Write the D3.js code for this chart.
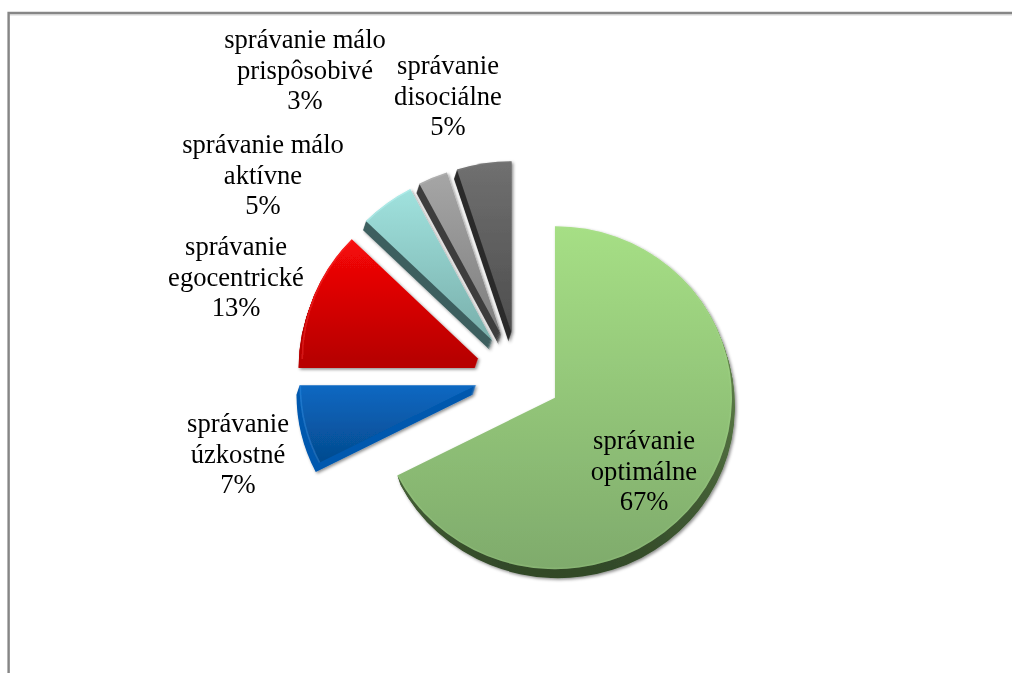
<!DOCTYPE html>
<html><head><meta charset="utf-8">
<script src="https://cdn.jsdelivr.net/npm/d3@7"></script>
<style>html,body{margin:0;padding:0;background:#fff;overflow:hidden}svg{display:block}</style>
</head><body><svg id="c" width="1018" height="673"></svg>
<script>
const categories = ["správanie optimálne","správanie úzkostné","správanie egocentrické","správanie málo aktívne","správanie málo prispôsobivé","správanie disociálne"];
const labelLines = [["správanie","optimálne"],["správanie","úzkostné"],["správanie","egocentrické"],["správanie málo","aktívne"],["správanie málo","prispôsobivé"],["správanie","disociálne"]];
const shareLabels = ["67%","7%","13%","5%","3%","5%"];
const sliceShares = [67.5,7.5,12.3,5.0,2.7,5.0];
const topColors = ["#a6df85","#0a68c2","#f80808","#a0e2de","#a6a6a6","#707070"];
const botColors = ["#7fab6c","#054a8e","#b80000","#79afab","#7d7d7d","#4d4d4d"];
const sideTop = ["#66884f","#0058ae","#b80000","#3d5f5f","#3d3d3d","#2c2c2c"];
const sideBot = ["#2f4526","#0058ae","#b80000","#3d5f5f","#3d3d3d","#2c2c2c"];
const rimColors = ["#b4e69a","#3d93e8","#ff3a3a","#c0fbfb","#c4c4c4","#8a8a8a"];
const rimAlpha = [0.15,0.4,0.4,0.4,0.3,0.2];

const cx=518.3, cy=375.2, explode=43, rx=177, ry=171.5, depth=9, sideDrift=3;
const labelPos = [[644,449],[238,432],[236,255],[263,153],[305,48],[448,74]];
const lineH = 30.6, fontPx = 26.6;

const svg = d3.select("#c");
const defs = svg.append("defs");
const f = defs.append("filter").attr("id","sh").attr("x","-10%").attr("y","-10%").attr("width","125%").attr("height","125%");
f.append("feDropShadow").attr("dx",1.5).attr("dy",1.5).attr("stdDeviation",1.6).attr("flood-color","#000").attr("flood-opacity",.45);
const soft = defs.append("filter").attr("id","soft").attr("x","-5%").attr("y","-5%").attr("width","110%").attr("height","110%");
soft.append("feGaussianBlur").attr("stdDeviation",.4);

// frame
const frame = d3.line();
svg.append("path").attr("d",frame([[9,673],[9,15],[1012,15]])).attr("fill","none").attr("stroke","#d4d4d4").attr("stroke-width",1);
svg.append("path").attr("d",frame([[8.6,673],[8.6,13],[1012,13]])).attr("fill","none").attr("stroke","#868686").attr("stroke-width",2.4);

const pie = d3.pie().sort(null).value(d=>d)(sliceShares);
const arc = d3.arc().innerRadius(0).outerRadius(ry);
const rim = d3.arc().innerRadius(ry-1.6).outerRadius(ry);
const kx = rx/ry;

pie.forEach((p,i)=>{
  const mid=(p.startAngle+p.endAngle)/2;
  const x=cx+explode*Math.sin(mid), y=cy-explode*Math.cos(mid);
  const g=svg.append("g").attr("filter","url(#sh)");
  const pts=[[0,0]];
  for(let k=0;k<=40;k++){const a=p.startAngle+(p.endAngle-p.startAngle)*k/40;pts.push([ry*Math.sin(a),-ry*Math.cos(a)]);}
  const y0=d3.min(pts,d=>d[1]), y1=d3.max(pts,d=>d[1]);
  const lgF=defs.append("linearGradient").attr("id","f"+i).attr("gradientUnits","userSpaceOnUse").attr("x1",0).attr("x2",0).attr("y1",y0).attr("y2",y1);
  lgF.append("stop").attr("offset",0).attr("stop-color",topColors[i]);
  lgF.append("stop").attr("offset",1).attr("stop-color",botColors[i]);
  const lgS=defs.append("linearGradient").attr("id","s"+i).attr("gradientUnits","userSpaceOnUse").attr("x1",0).attr("x2",0).attr("y1",y0+(y1-y0)*.3).attr("y2",y1+depth);
  lgS.append("stop").attr("offset",0).attr("stop-color",sideTop[i]);
  lgS.append("stop").attr("offset",1).attr("stop-color",sideBot[i]);
  const t=`translate(${x},${y}) scale(${kx},1)`;
  const drift=Math.sign(Math.sin(mid))*sideDrift/depth;
  g.selectAll("path.side").data(d3.range(depth,0,-1)).join("path").attr("class","side")
    .attr("d",arc(p)).attr("transform",d=>`translate(${x+d*drift},${y+d}) scale(${kx},1)`).attr("fill",`url(#s${i})`);
  g.append("path").attr("d",arc(p)).attr("transform",t).attr("fill",`url(#f${i})`);
  g.append("path").attr("d",rim(p)).attr("transform",t).attr("fill",rimColors[i]).attr("opacity",rimAlpha[i]);
});

labelLines.forEach((lines,i)=>{
  const all=[...lines,shareLabels[i]];
  const t=svg.append("text").attr("text-anchor","middle").attr("font-family","'Liberation Serif','Times New Roman',serif").attr("font-size",fontPx).attr("fill","#000").attr("filter","url(#soft)");
  all.forEach((s,j)=>t.append("tspan").attr("x",labelPos[i][0]).attr("y",labelPos[i][1]+j*lineH).text(s));
});
</script></body></html>
